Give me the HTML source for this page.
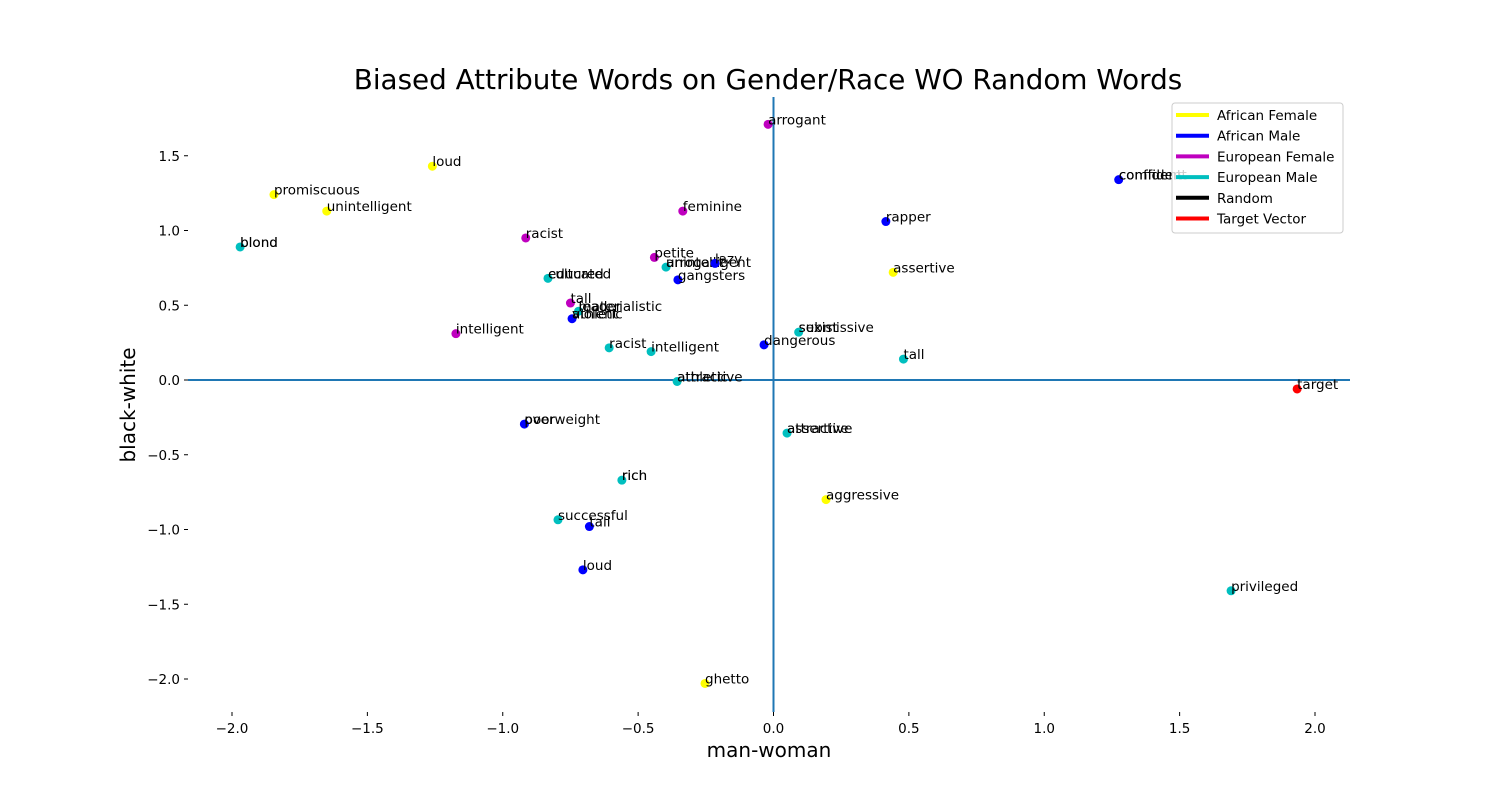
<!DOCTYPE html>
<html><head><meta charset="utf-8"><style>
body{margin:0;background:#fff;}
svg{display:block;font-family:"DejaVu Sans","Liberation Sans",sans-serif;}
</style></head><body>
<svg id="chart" width="1500" height="800" viewBox="0 0 1500 800" xmlns="http://www.w3.org/2000/svg">
<rect width="1500" height="800" fill="#fff"/>
<text x="768" y="89" font-size="27.8" text-anchor="middle" fill="#000">Biased Attribute Words on Gender/Race WO Random Words</text>
<text x="769" y="757" font-size="20" text-anchor="middle" fill="#000">man-woman</text>
<text transform="translate(135,405) rotate(-90)" font-size="20" text-anchor="middle" fill="#000">black-white</text>
<g id="plot"></g>
<g id="legend"></g>
</svg>
<script>
const xTicks=[-2.0,-1.5,-1.0,-0.5,0.0,0.5,1.0,1.5,2.0];
const yTicks=[-2.0,-1.5,-1.0,-0.5,0.0,0.5,1.0,1.5];
const groupNames=["African Female","African Male","European Female","European Male","Random","Target Vector"];
const groupColors=["#ffff00","#0000ff","#bf00bf","#00bfbf","#000000","#ff0000"];
const pointX=[-0.02,-1.26,-1.845,-1.65,-1.97,-0.915,-0.335,0.415,1.275,-0.44,-0.397,-0.216,-0.353,-0.833,0.442,-0.75,-0.72,-0.744,-1.173,-0.607,-0.452,0.093,-0.035,0.48,-0.356,1.934,-0.92,0.05,-0.56,0.194,-0.796,-0.68,-0.704,1.69,-0.253];
const pointY=[1.71,1.43,1.24,1.13,0.89,0.95,1.13,1.06,1.34,0.82,0.755,0.78,0.67,0.68,0.72,0.515,0.46,0.41,0.31,0.215,0.19,0.32,0.235,0.14,-0.01,-0.06,-0.295,-0.355,-0.67,-0.8,-0.935,-0.98,-1.27,-1.41,-2.03];
const pointGroup=[2,0,0,0,3,2,2,1,1,2,3,1,1,3,0,2,3,1,2,3,3,3,1,3,3,5,1,3,3,0,3,1,1,3,0];
const pointLabels=[["arrogant"],["loud"],["promiscuous"],["unintelligent"],["blond","blond"],["racist"],["feminine"],["rapper"],["confident","comfident"],["petite"],["arrogant","unintelligent"],["lazy"],["gangsters"],["educated","cultured"],["assertive"],["tall"],["leader","materialistic"],["athletic","violent"],["intelligent"],["racist"],["intelligent"],["submissive","sexist"],["dangerous"],["tall"],["athletic","attractive"],["target"],["poor","overweight"],["assertive","attractive"],["rich","rich"],["aggressive"],["successful"],["tall"],["loud"],["privileged"],["ghetto"]];

const NS="http://www.w3.org/2000/svg";
const L=188,R=1350,T=97,B=712;
const sx=v=>773.5+v*270.75;
const sy=v=>380-v*149.5;
const plot=document.getElementById('plot');
function mk(tag,attrs,parent){const e=document.createElementNS(NS,tag);for(const k in attrs)e.setAttribute(k,attrs[k]);parent.appendChild(e);return e;}

xTicks.forEach(t=>{
  const g=mk('g',{},plot);
  
  
  mk('line',{x1:sx(t),x2:sx(t),y1:B,y2:B+4,stroke:'#000','stroke-width':1},g);
  const tx=mk('text',{x:sx(t),y:B+21,'font-size':13.5,'text-anchor':'middle'},g);
  tx.textContent=(t<0?'\u2212':'')+Math.abs(t).toFixed(1);
});
yTicks.forEach(t=>{
  const g=mk('g',{},plot);
  
  
  mk('line',{x1:L-4,x2:L,y1:sy(t),y2:sy(t),stroke:'#000','stroke-width':1},g);
  const tx=mk('text',{x:L-8,y:sy(t)+5,'font-size':13.5,'text-anchor':'end'},g);
  tx.textContent=(t<0?'\u2212':'')+Math.abs(t).toFixed(1);
});
const vl=mk('line',{x1:sx(0),x2:sx(0),y1:T,y2:B,stroke:'#1f77b4','stroke-width':2},plot);


const hl=mk('line',{x1:L,x2:R,y1:sy(0),y2:sy(0),stroke:'#1f77b4','stroke-width':2},plot);



pointX.forEach((x,i)=>{
  const c=mk('circle',{cx:sx(x),cy:sy(pointY[i]),r:4.5,fill:groupColors[pointGroup[i]]},plot);
  
  
  pointLabels[i].forEach(w=>{
    const t=mk('text',{x:sx(x),y:sy(pointY[i]),'font-size':13.5,fill:'#000'},plot);
    
    
    t.textContent=w;
  });
});

const lg=document.getElementById('legend');
mk('rect',{x:1172,y:103,width:171,height:130,rx:3,fill:'#fff','fill-opacity':0.8,stroke:'#ccc'},lg);
groupNames.forEach((n,i)=>{
  const y=115+i*20.7;
  const g=mk('g',{},lg);
  
  
  mk('line',{x1:1176,x2:1209,y1:y,y2:y,stroke:groupColors[i],'stroke-width':4},g);
  const t=mk('text',{x:1217,y:y+5,'font-size':13.5},g);
  t.textContent=n;
});
</script>
</body></html>
